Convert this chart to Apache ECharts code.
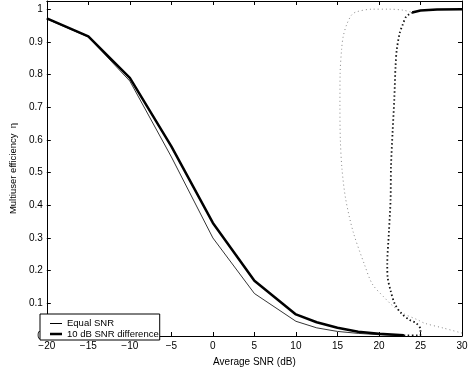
<!DOCTYPE html>
<html>
<head>
<meta charset="utf-8">
<script src="https://cdn.jsdelivr.net/npm/echarts@6/dist/echarts.min.js"></script>
<style>
html, body { margin: 0; padding: 0; background: #fff; }
#chart { width: 471px; height: 372px; }
</style>
</head>
<body>
<div id="chart"></div>
<script>
// lower (stable) branch, SNR in dB
var snrGrid = [-20, -15, -10, -5, 0, 5, 10, 12.5, 15, 17.5, 20, 23];
var equalEff = [0.97, 0.915, 0.78, 0.548, 0.30, 0.13, 0.045, 0.025, 0.014, 0.008, 0.004, 0.001];
var diffEff = [0.972, 0.917, 0.79, 0.58, 0.346, 0.169, 0.066, 0.042, 0.025, 0.013, 0.007, 0.002];

// upper branch (both curves overlap)
var upperSnr = [24, 25, 27, 30];
var upperEff = [0.99, 0.996, 0.999, 1.0];

// unstable branches (dotted), ordered along the curve
var equalDotSnr = [30, 27.8, 25.5, 24.7, 22.9, 21.8, 20.6, 19.2, 18.25, 16.9, 16.0, 15.55, 15.35, 15.3, 15.32, 15.5, 15.7, 16.1, 16.7, 17.3, 19.2, 21.2, 22.9, 24];
var equalDotEff = [0.009, 0.024, 0.039, 0.049, 0.069, 0.089, 0.119, 0.159, 0.219, 0.318, 0.418, 0.51, 0.6, 0.7, 0.8, 0.877, 0.917, 0.952, 0.982, 0.992, 1.0, 1.0, 0.997, 0.99];
var diffDotSnr = [23, 25, 25, 24.5, 23.7, 22.7, 21.9, 21.4, 21.05, 21.0, 21.2, 21.4, 21.45, 21.65, 21.85, 22.0, 22.15, 22.5, 22.85, 23.3, 24.1];
var diffDotEff = [0.002, 0.002, 0.02, 0.039, 0.049, 0.069, 0.099, 0.139, 0.179, 0.219, 0.318, 0.418, 0.518, 0.628, 0.727, 0.827, 0.877, 0.927, 0.952, 0.978, 0.99];

var xTicks = [-20, -15, -10, -5, 0, 5, 10, 15, 20, 25, 30];

function pairs(xs, ys) {
    return xs.map(function (x, i) { return [x, ys[i]]; });
}

// legend line sample: a bar of thickness h inside a 12x9 box
function lineIcon(h) {
    var y0 = 4.5 - h / 2;
    return 'path://M0,0h0.01v0.01h-0.01z M0,' + y0 + 'h12v' + h + 'h-12z M11.99,8.99h0.01v0.01h-0.01z';
}

var chart = echarts.init(document.getElementById('chart'));
var font = 'Liberation Sans, Arial, sans-serif';

var baseX = {
    type: 'value', min: xTicks[0], max: xTicks[xTicks.length - 1], interval: 5,
    axisLine: { onZero: false, lineStyle: { color: '#000', width: 1 } },
    axisTick: { inside: true, length: 4, lineStyle: { color: '#000' } },
    splitLine: { show: false }
};
var baseY = {
    type: 'value', min: 0, max: 1.025, interval: 0.1,
    axisLine: { onZero: false, lineStyle: { color: '#000', width: 1 } },
    axisTick: { inside: true, length: 4, lineStyle: { color: '#000' } },
    splitLine: { show: false }
};

var option = {
    animation: false,
    backgroundColor: '#fff',
    grid: { left: 35, right: 9, top: 1, bottom: 29 },
    xAxis: [
        Object.assign({}, baseX, {
            position: 'bottom',
            name: 'Average SNR (dB)', nameLocation: 'middle', nameGap: 21,
            nameTextStyle: { fontFamily: font, fontSize: 10, color: '#000' },
            axisLabel: {
                fontFamily: font, fontSize: 10, color: '#000', margin: 5,
                formatter: function (v) { return String(v).replace('-', '\u2212'); }
            }
        }),
        Object.assign({}, baseX, { position: 'top', axisLabel: { show: false } })
    ],
    yAxis: [
        Object.assign({}, baseY, {
            position: 'left',
            name: 'Multiuser efficiency  \u03b7', nameLocation: 'middle', nameGap: 28,
            nameTextStyle: { fontFamily: font, fontSize: 9.5, color: '#000' },
            axisLabel: {
                fontFamily: font, fontSize: 10, color: '#000', margin: 4, showMaxLabel: false,
                formatter: function (v) { return Math.abs(v * 10 - Math.round(v * 10)) < 1e-6 ? String(Math.round(v * 10) / 10) : ''; }
            }
        }),
        Object.assign({}, baseY, { position: 'right', axisLabel: { show: false } })
    ],
    legend: {
        data: [
            { name: 'Equal SNR', icon: lineIcon(1) },
            { name: '10 dB SNR difference', icon: lineIcon(2.5) }
        ],
        orient: 'vertical', left: 40, top: 314,
        backgroundColor: '#fff', borderColor: '#000', borderWidth: 1,
        padding: [4.5, 1, 1, 10], itemGap: 0.5, itemWidth: 12, itemHeight: 9,
        itemStyle: { color: '#000' },
        textStyle: { fontFamily: font, fontSize: 9.5, color: '#000' }
    },
    series: [
        {
            name: 'Equal SNR', type: 'line', symbol: 'none', color: '#000',
            data: pairs(snrGrid, equalEff),
            lineStyle: { color: '#000', width: 0.8 }
        },
        {
            name: '10 dB SNR difference', type: 'line', symbol: 'none', color: '#000',
            data: pairs(snrGrid, diffEff),
            lineStyle: { color: '#000', width: 2.5 }
        },
        {
            name: 'upper', type: 'line', symbol: 'none',
            data: pairs(upperSnr, upperEff),
            lineStyle: { color: '#000', width: 2.5 }
        },
        {
            name: 'equal unstable', type: 'line', symbol: 'none', smooth: 0.3,
            data: pairs(equalDotSnr, equalDotEff),
            lineStyle: { color: '#888', width: 1, type: [1, 3] }
        },
        {
            name: 'diff unstable', type: 'line', symbol: 'none', smooth: 0.3,
            data: pairs(diffDotSnr, diffDotEff),
            lineStyle: { color: '#111', width: 1.8, type: [1.5, 2.5] }
        }
    ]
};
chart.setOption(option);
</script>
</body>
</html>
